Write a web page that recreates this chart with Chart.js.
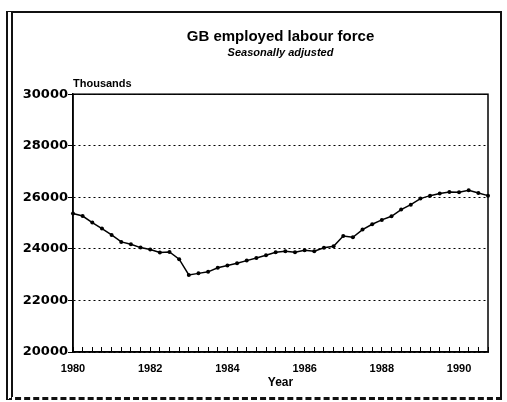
<!DOCTYPE html>
<html>
<head>
<meta charset="utf-8">
<title>GB employed labour force</title>
<script src="https://cdn.jsdelivr.net/npm/chart.js@4/dist/chart.umd.min.js"></script>
<style>
  html, body { margin: 0; padding: 0; background: #fff; }
  #wrap { position: relative; width: 507px; height: 402px; overflow: hidden; }
  #chart { position: absolute; left: 0; top: 0; }
  /* рамка вокруг всего рисунка, как на скане */
  #frame {
    position: absolute; left: 6px; top: 11px; width: 487px; height: 384px;
    border: 2px solid #111; border-left: 7px double #111; border-bottom: 3px dashed #111;
    pointer-events: none;
  }
</style>
</head>
<body>
<div id="wrap">
  <canvas id="chart" width="507" height="402"></canvas>
  <div id="frame"></div>
</div>
<script>
  "use strict";

  // quarterly, 1980 Q1 .. 1990 Q4
  const QUARTERS = [
    "1980 Q1", "1980 Q2", "1980 Q3", "1980 Q4",
    "1981 Q1", "1981 Q2", "1981 Q3", "1981 Q4",
    "1982 Q1", "1982 Q2", "1982 Q3", "1982 Q4",
    "1983 Q1", "1983 Q2", "1983 Q3", "1983 Q4",
    "1984 Q1", "1984 Q2", "1984 Q3", "1984 Q4",
    "1985 Q1", "1985 Q2", "1985 Q3", "1985 Q4",
    "1986 Q1", "1986 Q2", "1986 Q3", "1986 Q4",
    "1987 Q1", "1987 Q2", "1987 Q3", "1987 Q4",
    "1988 Q1", "1988 Q2", "1988 Q3", "1988 Q4",
    "1989 Q1", "1989 Q2", "1989 Q3", "1989 Q4",
    "1990 Q1", "1990 Q2", "1990 Q3", "1990 Q4"
  ];

  // thousands, seasonally adjusted
  const EMPLOYED = [
    25370, 25275, 25020, 24790,
    24540, 24270, 24180, 24050,
    23975, 23860, 23880, 23600,
    22990, 23050, 23110, 23265,
    23355, 23440, 23545, 23650,
    23750, 23865, 23905, 23870,
    23945, 23910, 24040, 24100,
    24500, 24450, 24750, 24955,
    25125, 25265, 25525, 25715,
    25950, 26065, 26145, 26210,
    26195, 26270, 26170, 26065
  ];

  const YEAR_LABELS = ["1980", "1982", "1984", "1986", "1988", "1990"];
  const Y_MIN = 20000, Y_MAX = 30000, Y_STEP = 2000;

  const TITLE = "GB employed labour force";
  const SUBTITLE = "Seasonally adjusted";
  const UNIT_LABEL = "Thousands";
  const X_TITLE = "Year";

  const SANS = '"Liberation Sans", Arial, sans-serif';

  // рамка области графика сверху/справа + подпись единиц
  const plotBox = {
    id: "plotBox",
    afterDraw(chart) {
      const { ctx, chartArea: a } = chart;
      ctx.save();
      ctx.strokeStyle = "#000";
      ctx.lineWidth = 1.5;
      ctx.strokeRect(a.left, a.top, a.right - a.left, a.bottom - a.top);
      ctx.font = "bold 11px " + SANS;
      ctx.fillStyle = "#000";
      ctx.textBaseline = "bottom";
      ctx.textAlign = "left";
      ctx.fillText(UNIT_LABEL, a.left, a.top - 5);
      ctx.restore();
    }
  };

  new Chart(document.getElementById("chart"), {
    type: "line",
    data: {
      labels: QUARTERS,
      datasets: [{
        label: TITLE,
        data: EMPLOYED,
        borderColor: "#000",
        borderWidth: 1.5,
        pointRadius: 2,
        pointBackgroundColor: "#000",
        pointBorderWidth: 0,
        tension: 0
      }]
    },
    options: {
      responsive: false,
      animation: false,
      devicePixelRatio: 1,
      layout: { padding: { top: 0, right: 19, bottom: 0, left: 0 } },
      plugins: {
        legend: { display: false },
        tooltip: { enabled: false },
        title: {
          display: true, text: TITLE, color: "#000", fullSize: false,
          font: { family: SANS, size: 15, weight: "bold" },
          padding: { top: 28, bottom: 0 }
        },
        subtitle: {
          display: true, text: SUBTITLE, color: "#000", fullSize: false,
          font: { family: SANS, size: 11, weight: "bold", style: "italic" },
          padding: { top: 0, bottom: 35 }
        }
      },
      scales: {
        x: {
          type: "category",
          offset: false,
          grid: { drawOnChartArea: false, tickLength: -5, tickColor: "#000", lineWidth: 1 },
          border: { color: "#000", width: 1.5 },
          ticks: {
            autoSkip: false, maxRotation: 0, padding: 15, color: "#000",
            font: { family: SANS, size: 11, weight: "bold" },
            callback: (v, i) => {
              const [yr, q] = QUARTERS[i].split(" ");
              return q === "Q1" && YEAR_LABELS.includes(yr) ? yr : "";
            }
          },
          title: {
            display: true, text: X_TITLE, color: "#000",
            font: { family: SANS, size: 12, weight: "bold" },
            padding: { top: 0, bottom: 12 }
          },
          afterFit: (s) => { s.height = 50; }
        },
        y: {
          min: Y_MIN, max: Y_MAX,
          grid: { color: "#000", lineWidth: 1, tickLength: 5, tickColor: "#000", tickBorderDash: [] },
          border: { color: "#000", width: 1.5, dash: [2, 3] },
          ticks: {
            stepSize: Y_STEP, padding: 0, color: "#000",
            font: { family: '"DejaVu Sans", sans-serif', size: 13, weight: "bold" },
            callback: (v) => String(v)
          },
          afterFit: (s) => { s.width = 73; }
        }
      }
    },
    plugins: [plotBox]
  });
</script>
</body>
</html>
